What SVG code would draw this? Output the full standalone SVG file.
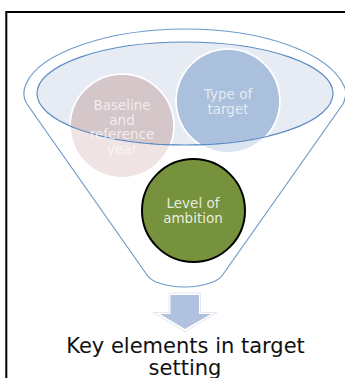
<svg xmlns="http://www.w3.org/2000/svg" width="345" height="378" viewBox="0 0 345 378">
<style>
text{font-family:"DejaVu Sans",Verdana,sans-serif;text-anchor:middle}
.w{fill:#fff;font-size:13.5px}
.wf{fill:#fff;fill-opacity:.7;font-size:13.5px}
.f{fill:none;stroke:#6f9bcb;stroke-width:1.2}
</style>
<rect width="345" height="378" fill="#fff"/>
<path d="M6.300 378V12H345" fill="none" stroke="#000" stroke-width="2"/>
<g id="baseline"><circle cx="122" cy="126" r="51" fill="#f0e3e3"/></g>
<g id="type"><circle cx="228" cy="101" r="51" fill="#dbe5f1"/></g>
<g id="funnel">
<path class="f" d="M27 104C23 98 23 91 26 84C40 52 110 29 185 29C262 29 330 52 345 88C346 92 346 98 343 104L224 273C221 278 218 280 213 282C205 285 195 287 185 287C174 287 164 285 156 282C152 280 149 278 147 275Z"/>
<ellipse cx="185" cy="93.500" rx="148" ry="51.500" fill="#b7c7e0" fill-opacity=".35" stroke="#5b8cc2" stroke-width="1.200"/>
</g>
<clipPath id="c"><ellipse cx="185" cy="93.500" rx="147.500" ry="51"/></clipPath>
<g clip-path="url(#c)">
<circle cx="122" cy="126" r="51" fill="#d5c6ca"/>
<circle cx="228" cy="101" r="51" fill="#abc0dc"/>
<circle cx="228" cy="101" r="52" fill="none" stroke="#fff" stroke-width="1.500"/>
<circle cx="122" cy="126" r="52" fill="none" stroke="#fff" stroke-width="1.500"/>
</g>
<g id="baseline-label">
<text class="wf" x="122" y="109.500">Baseline</text>
<text class="wf" x="122" y="124.500">and</text>
<text class="wf" x="122" y="139">reference</text>
<text class="wf" x="122" y="154">year</text>
</g>
<g id="type-label">
<text class="wf" x="228" y="99">Type of</text>
<text class="wf" x="228" y="114">target</text>
</g>
<g id="ambition">
<circle cx="193.500" cy="210.500" r="51.500" fill="#76923c" stroke="#000" stroke-width="2"/>
<text class="w" fill-opacity=".85" x="193" y="208">Level of</text>
<text class="w" fill-opacity=".85" x="193" y="223">ambition</text>
</g>
<g id="arrow">
<path d="M169 293H200.500V312.500H217L185 331.500L153 312.500H169Z" fill="#fff" stroke="#e3e7ee" stroke-width="1"/>
<path d="M170.500 295H199V314H211L185 329L160 314H170.500Z" fill="#b0c2de"/>
</g>
<g id="caption">
<text x="185.500" y="353" font-size="21px" fill="#111">Key elements in target</text>
<text x="185" y="375" font-size="21px" fill="#111">setting</text>
</g>
</svg>
